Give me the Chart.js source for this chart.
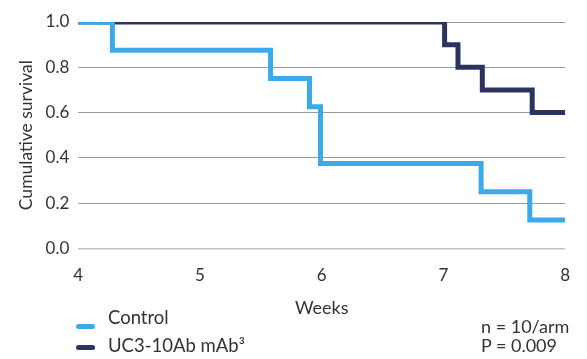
<!DOCTYPE html>
<html>
<head>
<meta charset="utf-8">
<script src="https://cdn.jsdelivr.net/npm/chart.js@4"></script>
<style>
body{margin:0;background:#fff;font-family:Lato,sans-serif;color:#333;}
#wrap{position:relative;width:587px;height:359px;}
#legend{position:absolute;left:76px;top:306px;}
.item{position:relative;height:28px;font-size:18.5px;line-height:22px;}
.item span.mark{position:absolute;left:0;width:19px;height:5px;border-radius:3px;}
.item span.txt{position:absolute;left:32px;top:0;white-space:nowrap;}
#stats{position:absolute;left:481px;top:317px;font-size:18px;line-height:19px;}
</style>
</head>
<body>
<div id="wrap">
<canvas id="kmChart" width="587" height="359"></canvas>
<div id="legend"></div>
<div id="stats">n = 10/arm<br>P = 0.009</div>
</div>
<script>
const seriesNames = ["Control", "UC3-10Ab mAb³"];
const seriesColors = ["#3aabe8", "#2c335f"];
const controlWeeks = [4, 4.28, 5.58, 5.90, 5.99, 7.31, 7.71, 8];
const controlSurvival = [1.0, 0.875, 0.75, 0.625, 0.375, 0.25, 0.125, 0.125];
const mabWeeks = [4, 7.01, 7.12, 7.32, 7.73, 8];
const mabSurvival = [1.0, 0.9, 0.8, 0.7, 0.6, 0.6];
const weekTicks = [4, 5, 6, 7, 8];
const survivalTicks = [0, 0.2, 0.4, 0.6, 0.8, 1.0];

function toPoints(xs, ys){
return xs.map((x,i)=>({x:x, y:ys[i]}));
}

const datasets = [
{label:seriesNames[0], data:toPoints(controlWeeks, controlSurvival)},
{label:seriesNames[1], data:toPoints(mabWeeks, mabSurvival)}
].map((d,i)=>({
...d,
borderColor:seriesColors[i],
backgroundColor:seriesColors[i],
borderWidth:5,
stepped:true,
pointRadius:0,
borderCapStyle:'round',
borderJoinStyle:'miter',
fill:false
}));

const ctx = document.getElementById("kmChart");
new Chart(ctx,{
type:'line',
data:{datasets:datasets},
options:{
responsive:false,
animation:false,
layout:{padding:{left:0,top:22,right:20,bottom:0}},
plugins:{legend:{display:false},tooltip:{enabled:false}},
scales:{
x:{
type:'linear',
min:weekTicks[0],
max:weekTicks[weekTicks.length-1],
afterBuildTicks:(scale)=>{scale.ticks = weekTicks.map(v=>({value:v}));},
afterFit:(scale)=>{scale.height = 110.7;},
grid:{display:false,drawTicks:false},
border:{display:false},
ticks:{padding:17,color:'#333',font:{family:'Lato',size:17},callback:(v)=>String(v)},
title:{display:true,text:'Weeks',color:'#333',font:{family:'Lato',size:18},padding:{bottom:40}}
},
y:{
min:0,
max:1,
afterBuildTicks:(scale)=>{scale.ticks = survivalTicks.map(v=>({value:v}));},
afterFit:(scale)=>{scale.width = 78.3;},
grid:{drawTicks:false,color:(c)=>c.tick && c.tick.value===0 ? '#c2c2c2' : '#9a9a9a',lineWidth:(c)=>c.tick && c.tick.value===0 ? 1.5 : 1},
border:{display:false},
ticks:{padding:9,color:'#333',font:{family:'Lato',size:17},callback:(v)=>v.toFixed(1)},
title:{display:true,text:'Cumulative survival',color:'#333',font:{family:'Lato',size:17.5},padding:{top:16}}
}
}
}
});

function buildLegend(){
const legend = document.getElementById("legend");
const markTops = [18, 11];
seriesNames.forEach((name,i)=>{
legend.innerHTML += `
<div class="item">
<span class="mark" style="background:${seriesColors[i]};top:${markTops[i]}px"></span>
<span class="txt">${name}</span>
</div>
`;
});
}
buildLegend();
</script>
</body>
</html>
